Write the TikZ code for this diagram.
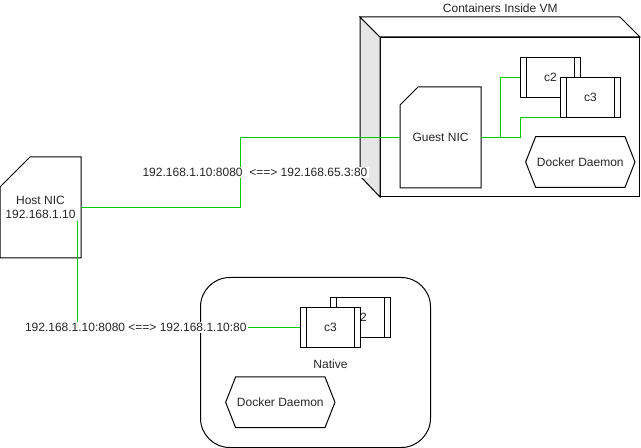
\documentclass[tikz,border=0pt]{standalone}
\usepackage{fontspec}
\setmainfont{Liberation Sans}
\usetikzlibrary{positioning, calc, shapes.symbols}
\definecolor{linkgreen}{RGB}{0,204,0}
\definecolor{sidegray}{HTML}{E6E6E6}
\tikzset{
	nic/.style={rectangle, inner sep=2pt, minimum width=60pt, minimum height=75pt, align=center},
	ctr/.style={draw, rectangle, fill=white, inner sep=0pt, minimum width=45pt, minimum height=30pt,
		path picture={
			\draw ([xshift=4.5pt]path picture bounding box.north west) -- ([xshift=4.5pt]path picture bounding box.south west);
			\draw ([xshift=-4.5pt]path picture bounding box.north east) -- ([xshift=-4.5pt]path picture bounding box.south east);}},
	daemon/.style={draw, signal, signal to=east and west, signal pointer angle=137, inner sep=1pt, minimum width=75.5pt, minimum height=38pt},
	% for port mapping labels on the links
	portmap/.style={fill=white, inner sep=1pt},
	link/.style={draw=linkgreen, line width=0.75pt},
}
\newcommand{\cardoutline}[2]{%
	\draw ([yshift=-#2]#1.north west) -- ([xshift=#2]#1.north west) -- (#1.north east) -- (#1.south east) -- (#1.south west) -- cycle;}

\begin{document}
\begin{tikzpicture}[x=0.75pt, y=-0.75pt, line width=0.75pt,
	every node/.style={font=\fontsize{9pt}{10.7pt}\selectfont, text=black!85}]
	\useasboundingbox (0,0) rectangle (641,448);
	
	% VM
	\node (vm) [draw, rectangle, fill=white, inner sep=0pt, minimum width=194.25pt, minimum height=119.25pt] at (510,117) {};
	\draw [fill=sidegray] (vm.north west) -- ++(-20,-20) -- ++(0,159) -- (vm.south west) -- cycle;
	\draw [fill=white] (vm.north west) -- ++(-20,-20) -- ($(vm.north east)+(-20,-20)$) -- (vm.north east) -- cycle;
	\node (vmtitle) at (500.3,8) {Containers Inside VM};
	
	\node (guest) [nic] at (440.5,137.5) {Guest NIC};
	\cardoutline{guest}{13.5pt}
	\node (vc2) [ctr] at (550.5,77.5) {c2};
	\node (vc3) [ctr] at (590.5,97.5) {c3};
	\node (vdock) [daemon] at (580.3,162) {Docker Daemon};
	
	% host
	\node (host) [nic] at (40.5,207.5) {Host NIC\\192.168.1.10};
	\cardoutline{host}{22.5pt}
	\coordinate (hostport) at (77.5,221);
	
	% native
	\node (native) [draw, rectangle, rounded corners=22pt, minimum width=172.5pt, minimum height=127.5pt] at (315.5,362.5) {};
	\node (nc2) [ctr] at (360.5,317.5) {c2};
	\node (nc3) [ctr] at (330.5,327.5) {c3};
	\node (nlabel) [below=5pt of nc3] {Native};
	\node (ndock) [daemon] at (280.3,402.3) {Docker Daemon};
	
	\begin{scope}[link]
		\draw (host.east) -| ($(host.east)!.5!(guest.west)$) |- (guest.west);
		\draw (guest.east) -| ($(guest.east)!.5!(vc2.west)$) |- (vc2.west);
		\draw (guest.east) -| ($(guest.east)!.5!(vc3.south west)$) |- (vc3.south west);
		\draw (hostport) |- (nc3.west);
	\end{scope}
	
	\node (map1) [portmap] at (255,172.3) {192.168.1.10:8080\ \ <==> 192.168.65.3:80};
	\node (map2) [portmap] at (135.8,327.3) {192.168.1.10:8080 <==> 192.168.1.10:80};
	
\end{tikzpicture}
\end{document}
